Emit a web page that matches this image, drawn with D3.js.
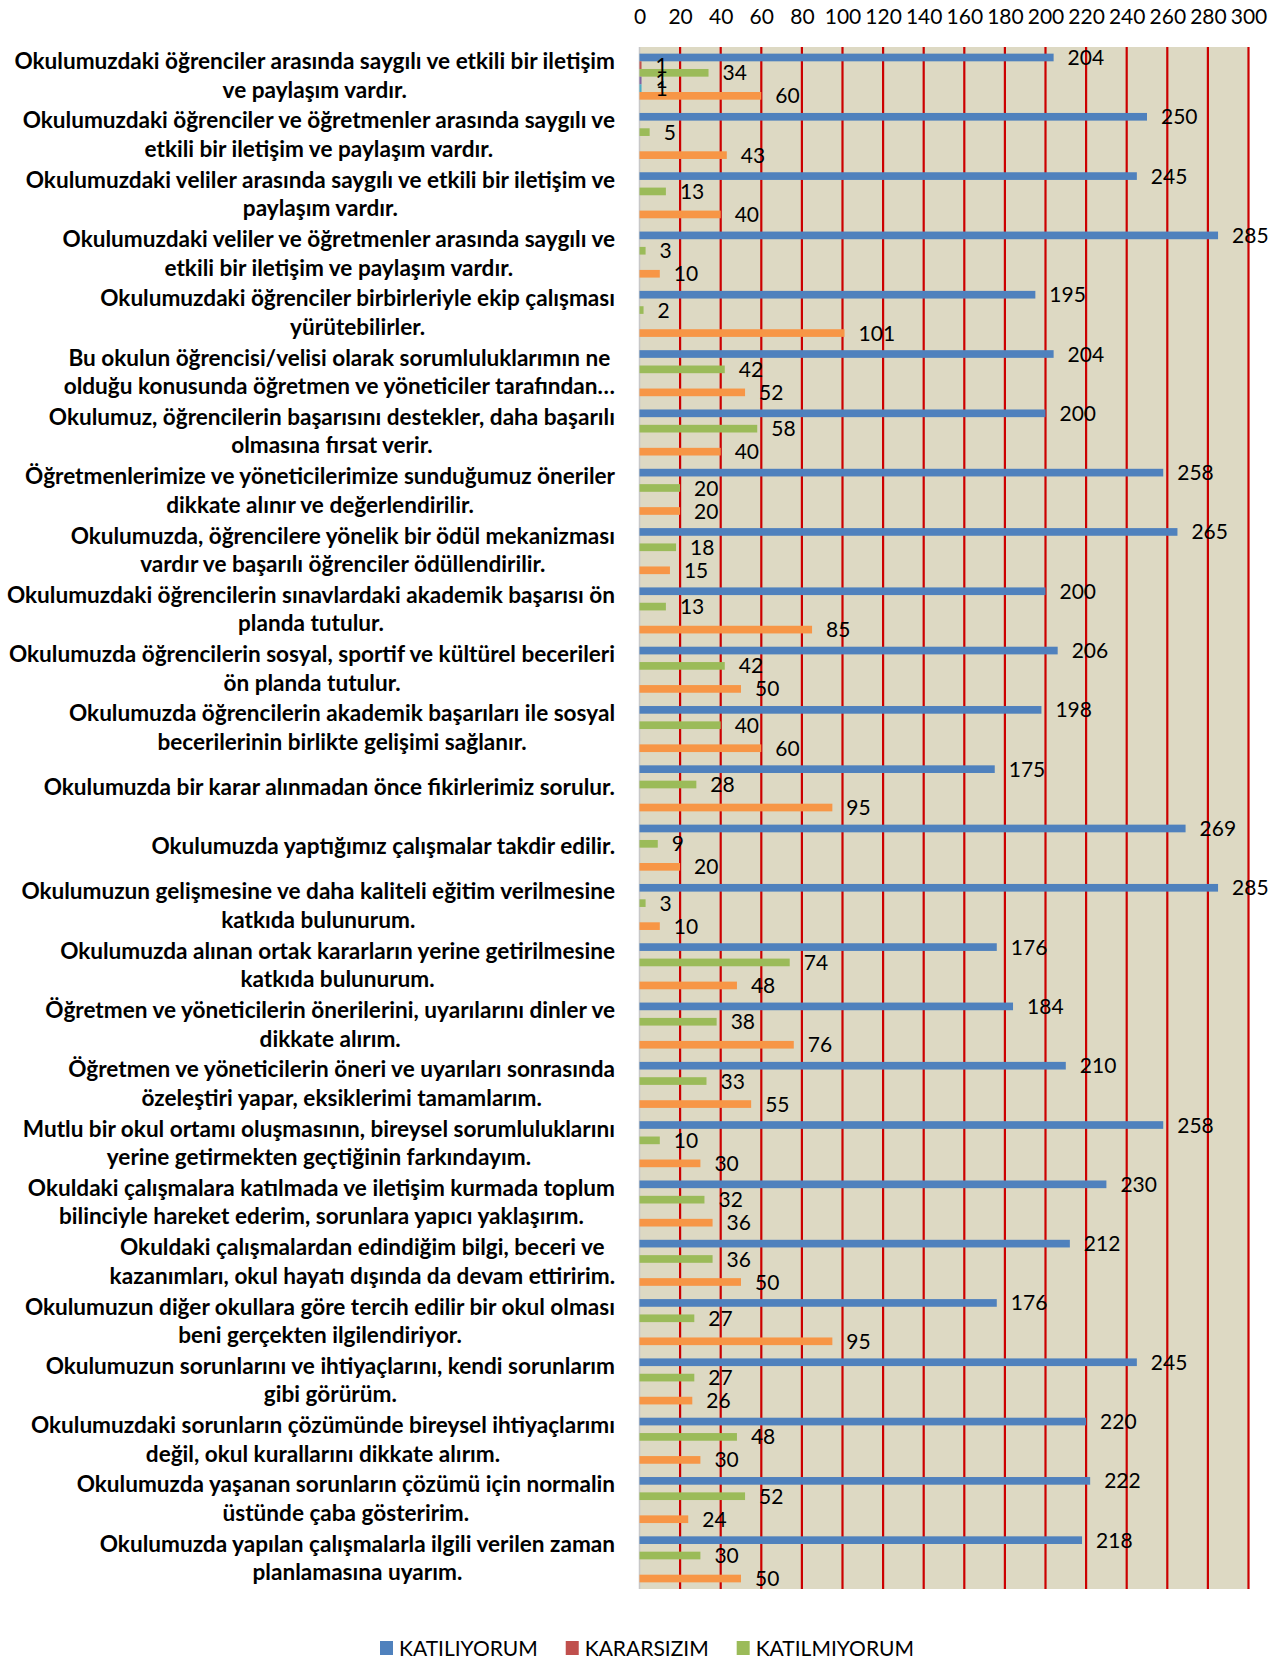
<!DOCTYPE html>
<html>
<head>
<meta charset="utf-8">
<script src="https://cdn.jsdelivr.net/npm/d3@7/dist/d3.min.js"></script>
<style>
   body { margin: 0; background: #fff; }
   text { font-family: Lato, "Open Sans", sans-serif; fill: #000; }
</style>
</head>
<body>
<svg id="chart" width="1287" height="1659"></svg>
<script>
// categories (line breaks as wrapped in the picture)
const categories = [
   "Okulumuzdaki öğrenciler arasında saygılı ve etkili bir iletişim\nve paylaşım vardır.",
   "Okulumuzdaki öğrenciler ve öğretmenler arasında saygılı ve\netkili bir iletişim ve paylaşım vardır.",
   "Okulumuzdaki veliler arasında saygılı ve etkili bir iletişim ve\npaylaşım vardır.",
   "Okulumuzdaki veliler ve öğretmenler arasında saygılı ve\netkili bir iletişim ve paylaşım vardır.",
   "Okulumuzdaki öğrenciler birbirleriyle ekip çalışması\nyürütebilirler.",
   "Bu okulun öğrencisi/velisi olarak sorumluluklarımın ne\nolduğu konusunda öğretmen ve yöneticiler tarafından…",
   "Okulumuz, öğrencilerin başarısını destekler, daha başarılı\nolmasına fırsat verir.",
   "Öğretmenlerimize ve yöneticilerimize sunduğumuz öneriler\ndikkate alınır ve değerlendirilir.",
   "Okulumuzda, öğrencilere yönelik bir ödül mekanizması\nvardır ve başarılı öğrenciler ödüllendirilir.",
   "Okulumuzdaki öğrencilerin sınavlardaki akademik başarısı ön\nplanda tutulur.",
   "Okulumuzda öğrencilerin sosyal, sportif ve kültürel becerileri\nön planda tutulur.",
   "Okulumuzda öğrencilerin akademik başarıları ile sosyal\nbecerilerinin birlikte gelişimi sağlanır.",
   "Okulumuzda bir karar alınmadan önce fikirlerimiz sorulur.",
   "Okulumuzda yaptığımız çalışmalar takdir edilir.",
   "Okulumuzun gelişmesine ve daha kaliteli eğitim verilmesine\nkatkıda bulunurum.",
   "Okulumuzda alınan ortak kararların yerine getirilmesine\nkatkıda bulunurum.",
   "Öğretmen ve yöneticilerin önerilerini, uyarılarını dinler ve\ndikkate alırım.",
   "Öğretmen ve yöneticilerin öneri ve uyarıları sonrasında\nözeleştiri yapar, eksiklerimi tamamlarım.",
   "Mutlu bir okul ortamı oluşmasının, bireysel sorumluluklarını\nyerine getirmekten geçtiğinin farkındayım.",
   "Okuldaki çalışmalara katılmada ve iletişim kurmada toplum\nbilinciyle hareket ederim, sorunlara yapıcı yaklaşırım.",
   "Okuldaki çalışmalardan edindiğim bilgi, beceri ve\nkazanımları, okul hayatı dışında da devam ettiririm.",
   "Okulumuzun diğer okullara göre tercih edilir bir okul olması\nbeni gerçekten ilgilendiriyor.",
   "Okulumuzun sorunlarını ve ihtiyaçlarını, kendi sorunlarım\ngibi görürüm.",
   "Okulumuzdaki sorunların çözümünde bireysel ihtiyaçlarımı\ndeğil, okul kurallarını dikkate alırım.",
   "Okulumuzda yaşanan sorunların çözümü için normalin\nüstünde çaba gösteririm.",
   "Okulumuzda yapılan çalışmalarla ilgili verilen zaman\nplanlamasına uyarım."
];

// series values (null = no bar)
const katiliyorum = [204, 250, 245, 285, 195, 204, 200, 258, 265, 200, 206, 198, 175, 269, 285, 176, 184, 210, 258, 230, 212, 176, 245, 220, 222, 218];
const kararsizim = [1, null, null, null, null, null, null, null, null, null, null, null, null, null, null, null, null, null, null, null, null, null, null, null, null, null];
const katilmiyorum = [34, 5, 13, 3, 2, 42, 58, 20, 18, 13, 42, 40, 28, 9, 3, 74, 38, 33, 10, 32, 36, 27, 27, 48, 52, 30];
const seri4 = [1, null, null, null, null, null, null, null, null, null, null, null, null, null, null, null, null, null, null, null, null, null, null, null, null, null];
const seri5 = [1, null, null, null, null, null, null, null, null, null, null, null, null, null, null, null, null, null, null, null, null, null, null, null, null, null];
const seri6 = [60, 43, 40, 10, 101, 52, 40, 20, 15, 85, 50, 60, 95, 20, 10, 48, 76, 55, 30, 36, 50, 95, 26, 30, 24, 50];

const seriesNames = ["KATILIYORUM", "KARARSIZIM", "KATILMIYORUM", "Seri4", "Seri5", "Seri6"];
const seriesValues = [katiliyorum, kararsizim, katilmiyorum, seri4, seri5, seri6];
const colors = ["#4F81BD", "#C0504D", "#9BBB59", "#8064A2", "#4BACC6", "#F79646"];
const legendNames = ["KATILIYORUM", "KARARSIZIM", "KATILMIYORUM"];
const xTicks = [0, 20, 40, 60, 80, 100, 120, 140, 160, 180, 200, 220, 240, 260, 280, 300];

// setup
const plotLeft = 639.5;
const plotRight = 1248.5;
const plotTop = 47;
const plotBottom = 1589;
const svg = d3.select("#chart");

const x = d3.scaleLinear().domain([0, 300]).range([plotLeft, plotRight]);
const y = d3
   .scaleBand()
   .domain(d3.range(categories.length))
   .range([plotTop, plotBottom])
   .paddingInner(0.224)
   .paddingOuter(0.112);
const ySeries = d3
   .scaleBand()
   .domain(d3.range(seriesNames.length))
   .range([0, y.bandwidth()]);

// plot background
svg.append("rect")
   .attr("x", plotLeft)
   .attr("y", plotTop)
   .attr("width", plotRight - plotLeft)
   .attr("height", plotBottom - plotTop)
   .attr("fill", "#DDD9C3");

// gridlines
svg.append("g")
   .selectAll("line")
   .data(xTicks.filter((t) => t > 0))
   .enter()
   .append("line")
   .attr("x1", (d) => x(d))
   .attr("x2", (d) => x(d))
   .attr("y1", plotTop)
   .attr("y2", plotBottom)
   .attr("stroke", "#CC0000")
   .attr("stroke-width", 2.2);

svg.append("line")
   .attr("x1", plotLeft)
   .attr("x2", plotLeft)
   .attr("y1", plotTop)
   .attr("y2", plotBottom)
   .attr("stroke", "#C8C8C8")
   .attr("stroke-width", 1.5);

// top axis labels
const xAxis = d3.axisTop(x).tickValues(xTicks).tickSize(0).tickPadding(0);
const xAxisG = svg.append("g")
   .attr("transform", "translate(0, 24)")
   .call(xAxis);
xAxisG.select(".domain").remove();
xAxisG.selectAll("text")
   .attr("dy", 0)
   .style("font-family", "Lato")
   .style("font-size", "21px")
   .attr("fill", "#000");

// bars
const bars = [];
seriesValues.forEach((vals, s) => {
   vals.forEach((v, i) => {
      if (v !== null) bars.push({ s, i, v });
   });
});

svg.append("g")
   .selectAll("rect")
   .data(bars)
   .enter()
   .append("rect")
   .attr("x", x(0))
   .attr("y", (d) => y(d.i) + ySeries(d.s))
   .attr("width", (d) => x(d.v) - x(0))
   .attr("height", ySeries.bandwidth())
   .attr("fill", (d) => colors[d.s]);

// data labels
svg.append("g")
   .selectAll("text")
   .data(bars)
   .enter()
   .append("text")
   .attr("x", (d) => x(d.v) + 14)
   .attr("y", (d) => y(d.i) + ySeries(d.s) + ySeries.bandwidth() / 2)
   .attr("dy", "0.36em")
   .style("font-size", "21px")
   .text((d) => d.v);

// category labels, lines centered, block right-aligned
const labelRight = 615;
const lineHeight = 28.5;
const catG = svg.append("g").attr("font-weight", "bold");

// fit the font to the width of the first label line
const probe = catG.append("text").style("font-size", "20px").text(categories[0].split("\n")[0]);
const catFont = 20 * 601 / probe.node().getComputedTextLength();
probe.remove();

categories.forEach((c, i) => {
   const lines = c.split("\n");
   const cy = y(i) + y.bandwidth() / 2;
   const t = catG.append("text").style("font-size", catFont + "px").attr("text-anchor", "middle");
   const spans = lines.map((l, k) =>
      t.append("tspan")
         .attr("y", cy + (k - (lines.length - 1) / 2) * lineHeight + 6.7)
         .text(l)
   );
   const w = d3.max(spans, (sp) => sp.node().getComputedTextLength());
   spans.forEach((sp) => sp.attr("x", labelRight - w / 2));
});

// legend
const legend = svg.append("g");
let lx = 380;
legendNames.forEach((name, k) => {
   legend.append("rect")
      .attr("x", lx)
      .attr("y", 1641)
      .attr("width", 13)
      .attr("height", 14)
      .attr("fill", colors[k]);
   const t = legend.append("text")
      .attr("x", lx + 19)
      .attr("y", 1655.5)
      .style("font-size", "21px")
      .text(name);
   lx += 19 + t.node().getComputedTextLength() + 28;
});
</script>
</body>
</html>
